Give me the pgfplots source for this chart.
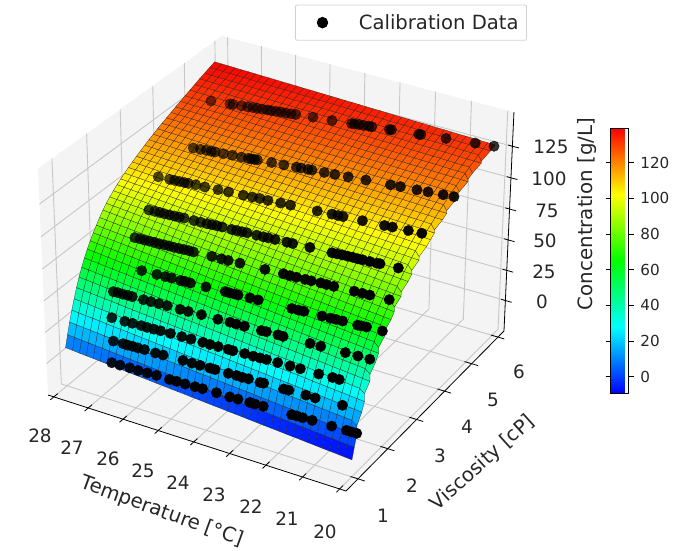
\documentclass[border=0pt]{standalone}
\usepackage{pgfplots}
\usepackage{pgfplotstable}
\pgfplotsset{compat=1.18}
\usepackage{fontspec}
\setmainfont{DejaVu Sans}
\definecolor{paneA}{gray}{0.955}
\definecolor{gridc}{gray}{0.78}
\definecolor{txt}{gray}{0.15}
\pgfplotsset{/pgfplots/table/proj/.style={x expr={PX(\thisrow{T},\thisrow{V},\thisrow{z})},y expr={PY(\thisrow{T},\thisrow{V},\thisrow{z})},z expr=0},
 /pgfplots/table/level/.style={x expr={PX(\thisrow{T},\thisrow{V},#1)},y expr={PY(\thisrow{T},\thisrow{V},#1)},z expr=0},
 cal/.style={forget plot,only marks,scatter,mark=*,mark size=5.2pt,point meta=0,
 visualization depends on={min(1,1.25-0.4*uu(\thisrow{T})-0.49*vv(\thisrow{V})) \as \aval},
 scatter/@pre marker code/.code={\pgfscope\pgfsetfillopacity{\aval}\pgfsetstrokeopacity{\aval}\pgfsetfillcolor{black}\pgfsetstrokecolor{black}},
 scatter/@post marker code/.code={\endpgfscope}}}
\begin{document}
\begin{tikzpicture}
\useasboundingbox (0,0) rectangle (681pt,550pt);
\begin{axis}[
 at={(0,0)},anchor=south west,
 scale only axis, width=681pt, height=550pt, xmin=0,xmax=681,ymin=0,ymax=550,
 view={0}{90}, hide axis, clip=false,
 declare function={
  uu(\t)=(\t-19.83)/8.34; vv(\v)=(\v-0.606)/5.627; ww(\z)=(\z+25.6)/177.2;
  WW(\a,\b,\c)=1+0.0449*\a+0.092*\b-0.0449*\c;
  PX(\t,\v,\z)=(346-295.84*uu(\t)+204.37*vv(\v)-12.2*ww(\z))/WW(uu(\t),vv(\v),ww(\z));
  PY(\t,\v,\z)=550-(491-78.26*uu(\t)-129.55*vv(\v)-244*ww(\z))/WW(uu(\t),vv(\v),ww(\z));
 },
 colormap={rb}{rgb255=(0,0,255) rgb255=(0,255,255) rgb255=(0,255,0) rgb255=(255,255,0) rgb255=(255,0,0)},
 point meta min=-9.3, point meta max=139.3,
 colorbar,
 colorbar style={at={(parent axis.south west)},anchor=south west,xshift=602pt,yshift=156.7pt,
  width=18.3pt,height=265pt,ytick={0,20,...,120},ymin=-9.3,ymax=139.3,
  yticklabel style={font=\fontsize{15.2}{15.2}\selectfont,text=txt,xshift=3pt,/pgf/number format/assume math mode=true},
  ytick style={draw=black,line width=0.7pt},tick align=outside,major tick length=5pt,axis line style={line width=0.8pt}},
 legend style={at={(axis cs:295,509.3)},anchor=south west,rounded corners=2pt,draw=gray!35,line width=0.8pt,font=\fontsize{19.6}{19.6}\selectfont,text=txt,inner xsep=6pt,inner ysep=7.5pt},
]
% panes
\addplot3[forget plot,fill=paneA,draw=none] table[row sep=\\,proj]{T V z\\19.83 0.606 -25.6\\28.17 0.606 -25.6\\28.17 6.233 -25.6\\19.83 6.233 -25.6\\};
\addplot3[forget plot,fill=paneA,draw=none] table[row sep=\\,proj]{T V z\\19.83 6.233 -25.6\\28.17 6.233 -25.6\\28.17 6.233 151.6\\19.83 6.233 151.6\\};
\addplot3[forget plot,fill=paneA,draw=none] table[row sep=\\,proj]{T V z\\28.17 0.606 -25.6\\28.17 6.233 -25.6\\28.17 6.233 151.6\\28.17 0.606 151.6\\};
% grid
\pgfplotsinvokeforeach{20,...,28}{
\addplot3[forget plot,gridc,line width=0.9pt] table[row sep=\\,proj]{T V z\\#1 0.606 -25.6\\#1 6.233 -25.6\\#1 6.233 151.6\\};
\addplot3[forget plot,black,line width=0.8pt] table[row sep=\\,proj]{T V z\\#1 0.50 -25.6\\#1 0.72 -25.6\\};
}
\pgfplotsinvokeforeach{1,...,6}{
\addplot3[forget plot,gridc,line width=0.9pt] table[row sep=\\,proj]{T V z\\19.83 #1 -25.6\\28.17 #1 -25.6\\28.17 #1 151.6\\};
\addplot3[forget plot,black,line width=0.8pt] table[row sep=\\,proj]{T V z\\19.65 #1 -25.6\\20.03 #1 -25.6\\};
}
\pgfplotsinvokeforeach{0,25,...,125}{
\addplot3[forget plot,gridc,line width=0.9pt] table[row sep=\\,proj]{T V z\\28.17 0.606 #1\\28.17 6.233 #1\\19.83 6.233 #1\\};
\addplot3[forget plot,black,line width=0.8pt] table[row sep=\\,proj]{T V z\\19.95 6.233 #1\\19.65 6.233 #1\\};
}
% axis lines
\addplot3[forget plot,black,line width=0.8pt] table[row sep=\\,proj]{T V z\\28.17 0.606 -25.6\\19.83 0.606 -25.6\\19.83 6.233 -25.6\\19.83 6.233 151.6\\};
% surface: 41 temperatures (20..28) per viscosity row, 41 rows
\addplot3[forget plot,surf,shader=faceted,faceted color=black!85,line width=0.25pt,mesh/cols=41,mesh/ordering=x varies,mesh/check=false,point meta=\thisrow{z}]
 table[x expr={PX(20+8*mod(\coordindex,41)/40,(1+0.0352*floor(\coordindex/41))^2,\thisrow{z})},y expr={PY(20+8*mod(\coordindex,41)/40,(1+0.0352*floor(\coordindex/41))^2,\thisrow{z})},z expr=0]{
z
-12.0
-11.6
-11.1
-10.7
-10.3
-9.8
-9.4
-8.9
-8.5
-8.1
-7.6
-7.2
-6.8
-6.3
-5.9
-5.4
-5.0
-4.6
-4.1
-3.7
-3.3
-2.8
-2.4
-1.9
-1.5
-1.1
-0.6
-0.2
0.3
0.7
1.1
1.6
2.0
2.4
2.9
3.3
3.8
4.2
4.6
5.1
5.5
-3.6
-3.2
-2.7
-2.3
-1.8
-1.4
-0.9
-0.5
0.0
0.5
0.9
1.4
1.8
2.3
2.7
3.2
3.6
4.1
4.5
5.0
5.4
5.9
6.3
6.8
7.2
7.7
8.1
8.6
9.0
9.5
9.9
10.4
10.8
11.3
11.7
12.2
12.6
13.1
13.5
14.0
14.4
4.3
4.8
5.2
5.7
6.2
6.6
7.1
7.6
8.0
8.5
9.0
9.4
9.9
10.3
10.8
11.3
11.7
12.2
12.7
13.1
13.6
14.1
14.5
15.0
15.5
15.9
16.4
16.9
17.3
17.8
18.3
18.7
19.2
19.6
20.1
20.6
21.0
21.5
22.0
22.4
22.9
11.7
12.2
12.7
13.1
13.6
14.1
14.6
15.1
15.5
16.0
16.5
17.0
17.5
17.9
18.4
18.9
19.4
19.9
20.3
20.8
21.3
21.8
22.3
22.7
23.2
23.7
24.2
24.7
25.1
25.6
26.1
26.6
27.1
27.5
28.0
28.5
29.0
29.5
29.9
30.4
30.9
18.6
19.1
19.6
20.1
20.6
21.1
21.6
22.0
22.5
23.0
23.5
24.0
24.5
25.0
25.5
26.0
26.5
27.0
27.5
28.0
28.5
28.9
29.4
29.9
30.4
30.9
31.4
31.9
32.4
32.9
33.4
33.9
34.4
34.9
35.4
35.9
36.3
36.8
37.3
37.8
38.3
25.1
25.6
26.1
26.6
27.1
27.6
28.1
28.6
29.2
29.7
30.2
30.7
31.2
31.7
32.2
32.7
33.2
33.7
34.2
34.7
35.3
35.8
36.3
36.8
37.3
37.8
38.3
38.8
39.3
39.8
40.3
40.8
41.3
41.8
42.4
42.9
43.4
43.9
44.4
44.9
45.4
31.2
31.7
32.2
32.8
33.3
33.8
34.3
34.8
35.4
35.9
36.4
36.9
37.4
37.9
38.5
39.0
39.5
40.0
40.6
41.1
41.6
42.1
42.6
43.2
43.7
44.2
44.7
45.2
45.8
46.3
46.8
47.3
47.8
48.4
48.9
49.4
49.9
50.4
51.0
51.5
52.0
37.0
37.5
38.1
38.6
39.1
39.6
40.2
40.7
41.2
41.7
42.3
42.8
43.3
43.8
44.4
44.9
45.4
45.9
46.5
47.0
47.5
48.0
48.6
49.1
49.6
50.1
50.7
51.2
51.7
52.2
52.8
53.3
53.8
54.3
54.9
55.4
55.9
56.4
57.0
57.5
58.0
42.5
43.0
43.6
44.1
44.6
45.1
45.7
46.2
46.7
47.2
47.8
48.3
48.8
49.3
49.9
50.4
50.9
51.4
52.0
52.5
53.0
53.5
54.1
54.6
55.1
55.6
56.2
56.7
57.2
57.7
58.3
58.8
59.3
59.8
60.4
60.9
61.4
61.9
62.5
63.0
63.5
47.7
48.2
48.7
49.3
49.8
50.3
50.8
51.4
51.9
52.4
52.9
53.4
54.0
54.5
55.0
55.5
56.1
56.6
57.1
57.6
58.2
58.7
59.2
59.7
60.2
60.8
61.3
61.8
62.3
62.9
63.4
63.9
64.4
64.9
65.5
66.0
66.5
67.0
67.6
68.1
68.6
52.6
53.1
53.6
54.2
54.7
55.2
55.7
56.2
56.7
57.3
57.8
58.3
58.8
59.3
59.8
60.4
60.9
61.4
61.9
62.4
62.9
63.5
64.0
64.5
65.0
65.5
66.0
66.6
67.1
67.6
68.1
68.6
69.1
69.6
70.2
70.7
71.2
71.7
72.2
72.7
73.3
57.2
57.7
58.2
58.7
59.2
59.8
60.3
60.8
61.3
61.8
62.3
62.8
63.3
63.8
64.3
64.9
65.4
65.9
66.4
66.9
67.4
67.9
68.4
68.9
69.4
70.0
70.5
71.0
71.5
72.0
72.5
73.0
73.5
74.0
74.5
75.1
75.6
76.1
76.6
77.1
77.6
61.6
62.1
62.6
63.1
63.6
64.1
64.6
65.1
65.6
66.1
66.6
67.1
67.6
68.1
68.6
69.1
69.6
70.1
70.6
71.1
71.6
72.1
72.6
73.1
73.6
74.1
74.6
75.1
75.6
76.1
76.6
77.1
77.6
78.1
78.6
79.1
79.6
80.1
80.6
81.1
81.6
65.9
66.4
66.9
67.4
67.9
68.4
68.9
69.3
69.8
70.3
70.8
71.3
71.8
72.3
72.8
73.3
73.8
74.3
74.8
75.2
75.8
76.2
76.7
77.2
77.7
78.2
78.7
79.2
79.7
80.2
80.8
81.2
81.7
82.2
82.6
83.1
83.6
84.1
84.6
85.1
85.6
69.9
70.4
70.9
71.4
71.9
72.3
72.8
73.3
73.8
74.3
74.8
75.3
75.8
76.2
76.7
77.2
77.7
78.2
78.7
79.2
79.7
80.1
80.6
81.1
81.6
82.1
82.6
83.1
83.6
84.0
84.5
85.0
85.5
86.0
86.5
87.0
87.5
87.9
88.4
88.9
89.4
73.7
74.2
74.6
75.1
75.6
76.1
76.5
77.0
77.5
78.0
78.4
78.9
79.4
79.8
80.3
80.8
81.3
81.7
82.2
82.7
83.2
83.6
84.1
84.6
85.0
85.5
86.0
86.5
86.9
87.4
87.9
88.4
88.8
89.3
89.8
90.2
90.7
91.2
91.7
92.1
92.6
77.3
77.8
78.2
78.7
79.1
79.6
80.0
80.5
80.9
81.4
81.9
82.3
82.8
83.2
83.7
84.1
84.6
85.0
85.5
85.9
86.4
86.9
87.3
87.8
88.2
88.7
89.1
89.6
90.0
90.5
91.0
91.4
91.9
92.3
92.8
93.2
93.7
94.1
94.6
95.0
95.5
80.8
81.2
81.7
82.1
82.5
83.0
83.4
83.8
84.3
84.7
85.1
85.6
86.0
86.4
86.9
87.3
87.7
88.2
88.6
89.0
89.5
89.9
90.3
90.8
91.2
91.6
92.0
92.5
92.9
93.3
93.8
94.2
94.6
95.1
95.5
95.9
96.4
96.8
97.2
97.7
98.1
84.2
84.6
85.0
85.4
85.9
86.3
86.7
87.1
87.5
87.9
88.3
88.7
89.1
89.5
89.9
90.4
90.8
91.2
91.6
92.0
92.4
92.8
93.2
93.6
94.0
94.5
94.9
95.3
95.7
96.1
96.5
96.9
97.3
97.7
98.1
98.6
99.0
99.4
99.8
100.2
100.6
87.4
87.8
88.2
88.6
89.0
89.3
89.7
90.1
90.5
90.9
91.3
91.7
92.1
92.4
92.8
93.2
93.6
94.0
94.4
94.8
95.2
95.5
95.9
96.3
96.7
97.1
97.5
97.9
98.3
98.6
99.0
99.4
99.8
100.2
100.6
101.0
101.4
101.7
102.1
102.5
102.9
90.5
90.9
91.2
91.6
92.0
92.3
92.7
93.1
93.4
93.8
94.2
94.5
94.9
95.2
95.6
96.0
96.3
96.7
97.1
97.4
97.8
98.2
98.5
98.9
99.3
99.6
100.0
100.4
100.7
101.1
101.5
101.8
102.2
102.5
102.9
103.3
103.6
104.0
104.4
104.7
105.1
93.4
93.7
94.1
94.4
94.8
95.1
95.5
95.8
96.2
96.5
96.9
97.2
97.5
97.9
98.2
98.6
98.9
99.3
99.6
100.0
100.3
100.6
101.0
101.3
101.7
102.0
102.4
102.7
103.1
103.4
103.8
104.1
104.4
104.8
105.1
105.5
105.8
106.2
106.5
106.9
107.2
96.2
96.5
96.9
97.2
97.5
97.8
98.2
98.5
98.8
99.1
99.5
99.8
100.1
100.4
100.8
101.1
101.4
101.7
102.1
102.4
102.7
103.0
103.4
103.7
104.0
104.3
104.7
105.0
105.3
105.6
106.0
106.3
106.6
106.9
107.3
107.6
107.9
108.2
108.6
108.9
109.2
99.0
99.3
99.6
99.9
100.2
100.5
100.8
101.1
101.4
101.7
102.1
102.4
102.7
103.0
103.3
103.6
103.9
104.2
104.5
104.8
105.1
105.4
105.7
106.0
106.3
106.6
106.9
107.2
107.5
107.8
108.2
108.5
108.8
109.1
109.4
109.7
110.0
110.3
110.6
110.9
111.2
101.6
101.9
102.2
102.5
102.8
103.0
103.3
103.6
103.9
104.2
104.5
104.8
105.0
105.3
105.6
105.9
106.2
106.5
106.8
107.0
107.4
107.6
107.9
108.2
108.5
108.8
109.1
109.4
109.6
109.9
110.2
110.5
110.8
111.1
111.4
111.7
111.9
112.2
112.5
112.8
113.1
104.1
104.4
104.6
104.9
105.2
105.5
105.7
106.0
106.3
106.6
106.8
107.1
107.4
107.6
107.9
108.2
108.5
108.7
109.0
109.3
109.5
109.8
110.1
110.4
110.6
110.9
111.2
111.5
111.7
112.0
112.3
112.5
112.8
113.1
113.4
113.6
113.9
114.2
114.4
114.7
115.0
106.5
106.8
107.0
107.3
107.5
107.8
108.0
108.3
108.6
108.8
109.1
109.3
109.6
109.8
110.1
110.4
110.6
110.9
111.1
111.4
111.7
111.9
112.2
112.4
112.7
112.9
113.2
113.5
113.7
114.0
114.2
114.5
114.7
115.0
115.3
115.5
115.8
116.0
116.3
116.5
116.8
108.9
109.1
109.4
109.6
109.9
110.1
110.4
110.6
110.8
111.1
111.3
111.6
111.8
112.1
112.3
112.5
112.8
113.0
113.3
113.5
113.8
114.0
114.2
114.5
114.7
115.0
115.2
115.5
115.7
115.9
116.2
116.4
116.7
116.9
117.1
117.4
117.6
117.9
118.1
118.3
118.6
111.1
111.3
111.6
111.8
112.0
112.3
112.5
112.7
112.9
113.2
113.4
113.6
113.9
114.1
114.3
114.6
114.8
115.0
115.2
115.5
115.7
115.9
116.2
116.4
116.6
116.8
117.1
117.3
117.5
117.8
118.0
118.2
118.5
118.7
118.9
119.1
119.4
119.6
119.8
120.1
120.3
113.3
113.5
113.7
114.0
114.2
114.4
114.6
114.8
115.0
115.3
115.5
115.7
115.9
116.1
116.3
116.6
116.8
117.0
117.2
117.4
117.7
117.9
118.1
118.3
118.5
118.7
119.0
119.2
119.4
119.6
119.8
120.0
120.3
120.5
120.7
120.9
121.1
121.3
121.6
121.8
122.0
115.4
115.6
115.8
116.0
116.2
116.4
116.6
116.8
117.0
117.2
117.5
117.7
117.9
118.1
118.3
118.5
118.7
118.9
119.1
119.3
119.5
119.7
119.9
120.1
120.3
120.5
120.7
120.9
121.1
121.3
121.5
121.8
122.0
122.2
122.4
122.6
122.8
123.0
123.2
123.4
123.6
117.4
117.6
117.8
118.0
118.2
118.4
118.6
118.8
119.0
119.2
119.4
119.5
119.7
119.9
120.1
120.3
120.5
120.7
120.9
121.1
121.3
121.5
121.7
121.9
122.1
122.3
122.5
122.7
122.9
123.1
123.3
123.4
123.6
123.8
124.0
124.2
124.4
124.6
124.8
125.0
125.2
119.4
119.6
119.8
120.0
120.2
120.3
120.5
120.7
120.9
121.1
121.3
121.5
121.7
121.8
122.0
122.2
122.4
122.6
122.8
123.0
123.2
123.3
123.5
123.7
123.9
124.1
124.3
124.5
124.7
124.8
125.0
125.2
125.4
125.6
125.8
126.0
126.2
126.3
126.5
126.7
126.9
121.3
121.5
121.7
121.8
122.0
122.2
122.4
122.6
122.7
122.9
123.1
123.3
123.5
123.6
123.8
124.0
124.2
124.4
124.5
124.7
124.9
125.1
125.3
125.4
125.6
125.8
126.0
126.2
126.3
126.5
126.7
126.9
127.1
127.2
127.4
127.6
127.8
128.0
128.1
128.3
128.5
123.1
123.3
123.5
123.6
123.8
124.0
124.2
124.3
124.5
124.7
124.9
125.0
125.2
125.4
125.6
125.7
125.9
126.1
126.3
126.4
126.6
126.8
127.0
127.1
127.3
127.5
127.7
127.8
128.0
128.2
128.4
128.5
128.7
128.9
129.1
129.2
129.4
129.6
129.8
129.9
130.1
124.9
125.1
125.2
125.4
125.6
125.8
125.9
126.1
126.3
126.5
126.6
126.8
127.0
127.1
127.3
127.5
127.7
127.8
128.0
128.2
128.4
128.5
128.7
128.9
129.0
129.2
129.4
129.6
129.7
129.9
130.1
130.2
130.4
130.6
130.8
130.9
131.1
131.3
131.5
131.6
131.8
126.6
126.8
126.9
127.1
127.3
127.5
127.6
127.8
128.0
128.1
128.3
128.5
128.6
128.8
129.0
129.2
129.3
129.5
129.7
129.8
130.0
130.2
130.3
130.5
130.7
130.9
131.0
131.2
131.4
131.5
131.7
131.9
132.0
132.2
132.4
132.6
132.7
132.9
133.1
133.2
133.4
128.3
128.5
128.6
128.8
129.0
129.2
129.3
129.5
129.7
129.8
130.0
130.2
130.3
130.5
130.7
130.9
131.0
131.2
131.4
131.5
131.7
131.9
132.0
132.2
132.4
132.6
132.7
132.9
133.1
133.2
133.4
133.6
133.7
133.9
134.1
134.3
134.4
134.6
134.8
134.9
135.1
129.9
130.1
130.2
130.4
130.6
130.7
130.9
131.1
131.2
131.4
131.6
131.7
131.9
132.1
132.2
132.4
132.6
132.7
132.9
133.1
133.3
133.4
133.6
133.8
133.9
134.1
134.3
134.4
134.6
134.8
134.9
135.1
135.3
135.4
135.6
135.8
135.9
136.1
136.3
136.4
136.6
131.5
131.7
131.8
132.0
132.2
132.3
132.5
132.7
132.8
133.0
133.2
133.3
133.5
133.7
133.8
134.0
134.2
134.3
134.5
134.7
134.9
135.0
135.2
135.4
135.5
135.7
135.9
136.0
136.2
136.4
136.5
136.7
136.9
137.0
137.2
137.4
137.5
137.7
137.9
138.0
138.2
133.0
133.2
133.3
133.5
133.7
133.8
134.0
134.2
134.3
134.5
134.7
134.8
135.0
135.2
135.3
135.5
135.7
135.8
136.0
136.2
136.4
136.5
136.7
136.9
137.0
137.2
137.4
137.5
137.7
137.9
138.0
138.2
138.4
138.5
138.7
138.9
139.0
139.2
139.4
139.5
139.7
};
% calibration rows
\addplot3[cal] table[row sep=\\,level=132.7]{T V\\27.20 4.78\\26.71 4.85\\26.63 4.86\\26.41 4.89\\26.25 4.91\\26.12 4.93\\26.00 4.94\\25.87 4.96\\25.74 4.98\\25.64 4.99\\25.51 5.01\\25.39 5.03\\25.26 5.04\\25.13 5.06\\25.01 5.08\\24.57 5.14\\24.08 5.20\\23.58 5.27\\23.51 5.28\\23.40 5.30\\23.28 5.31\\23.15 5.33\\23.07 5.34\\22.62 5.40\\22.57 5.41\\21.88 5.50\\21.83 5.51\\21.20 5.60\\20.47 5.70\\20 5.76\\};
\addplot3[cal] table[row sep=\\,level=118.4]{T V\\26.77 3.73\\26.58 3.75\\26.43 3.77\\26.30 3.78\\26.20 3.79\\25.98 3.81\\25.75 3.84\\25.51 3.86\\25.33 3.88\\25.25 3.89\\25.17 3.90\\25.10 3.91\\24.73 3.95\\24.41 3.98\\24.09 4.02\\23.97 4.03\\23.79 4.05\\23.69 4.06\\23.37 4.09\\23.10 4.12\\22.76 4.16\\22.31 4.21\\21.68 4.27\\21.43 4.30\\21.01 4.34\\20.73 4.37\\20.35 4.41\\20.08 4.44\\};
\addplot3[cal] table[row sep=\\,level=104.5]{T V\\27.21 3.10\\26.90 3.12\\26.77 3.13\\26.64 3.14\\26.51 3.15\\26.41 3.16\\26.21 3.18\\25.96 3.19\\25.61 3.22\\25.33 3.24\\24.94 3.27\\24.70 3.29\\24.51 3.31\\24.29 3.32\\23.96 3.35\\23.70 3.37\\23.00 3.42\\22.62 3.45\\22.46 3.46\\22.33 3.47\\21.83 3.51\\21.26 3.55\\21.06 3.57\\20.65 3.60\\20.31 3.63\\};
\addplot3[cal] table[row sep=\\,level=91.6]{T V\\26.96 2.53\\26.80 2.54\\26.67 2.55\\26.54 2.55\\26.40 2.56\\26.27 2.57\\26.14 2.58\\26.01 2.59\\25.74 2.60\\25.56 2.61\\25.39 2.62\\25.26 2.63\\25.13 2.64\\24.99 2.65\\24.73 2.66\\24.60 2.67\\24.46 2.68\\24.33 2.69\\24.07 2.70\\23.89 2.71\\23.76 2.72\\23.58 2.73\\23.27 2.75\\23.12 2.76\\22.67 2.79\\22.09 2.82\\21.96 2.83\\21.83 2.84\\21.69 2.85\\21.56 2.86\\21.43 2.86\\21.30 2.87\\21.11 2.88\\20.93 2.89\\20.85 2.90\\20.38 2.93\\};
\addplot3[cal] table[row sep=\\,level=78.2]{T V\\26.98 2.11\\26.84 2.12\\26.71 2.12\\26.58 2.13\\26.45 2.14\\26.31 2.14\\26.18 2.15\\26.05 2.16\\25.92 2.16\\25.78 2.17\\25.65 2.18\\25.52 2.19\\25.39 2.19\\24.90 2.22\\24.64 2.23\\24.46 2.24\\24.15 2.26\\23.48 2.29\\23.00 2.32\\22.82 2.32\\22.65 2.33\\22.42 2.34\\22.26 2.35\\22.02 2.37\\21.86 2.37\\21.67 2.38\\21.14 2.41\\20.93 2.42\\20.74 2.43\\20.24 2.46\\};
\addplot3[cal] table[row sep=\\,level=63.6]{T V\\26.47 1.76\\26.06 1.78\\25.83 1.79\\25.66 1.80\\25.41 1.81\\25.30 1.82\\25.15 1.82\\24.73 1.84\\24.22 1.87\\24.10 1.87\\23.97 1.88\\23.87 1.88\\23.56 1.90\\23.34 1.91\\22.45 1.95\\22.28 1.96\\22.14 1.97\\21.66 1.99\\21.44 2.00\\21.30 2.01\\21.13 2.02\\20.73 2.03\\20.64 2.04\\20.51 2.05\\20.10 2.07\\};
\addplot3[cal] table[row sep=\\,level=48.5]{T V\\27.02 1.47\\26.90 1.48\\26.76 1.48\\26.63 1.49\\26.50 1.49\\26.19 1.50\\25.99 1.51\\25.77 1.52\\25.55 1.53\\25.19 1.54\\24.97 1.55\\24.62 1.57\\24.17 1.58\\23.85 1.60\\23.68 1.60\\23.46 1.61\\23.01 1.63\\22.88 1.64\\22.57 1.65\\22.43 1.65\\21.72 1.68\\21.44 1.69\\20.80 1.72\\20.47 1.73\\20.16 1.74\\};
\addplot3[cal] table[row sep=\\,level=33.5]{T V\\26.88 1.26\\26.52 1.27\\26.31 1.28\\26.07 1.29\\25.90 1.29\\25.72 1.30\\25.54 1.31\\25.27 1.32\\24.96 1.33\\24.71 1.34\\24.39 1.35\\24.19 1.35\\23.97 1.36\\23.70 1.37\\23.57 1.37\\23.26 1.39\\23.03 1.39\\22.85 1.40\\22.68 1.41\\22.38 1.42\\22.05 1.43\\21.78 1.44\\21.29 1.45\\20.93 1.47\\20.75 1.47\\};
\addplot3[cal] table[row sep=\\,level=19.3]{T V\\26.72 1.12\\26.45 1.13\\26.32 1.13\\26.19 1.14\\26.04 1.14\\25.86 1.15\\25.55 1.15\\25.34 1.16\\24.80 1.18\\24.55 1.18\\24.33 1.19\\24.06 1.20\\23.92 1.20\\23.56 1.21\\23.34 1.22\\23.18 1.22\\23.02 1.23\\22.70 1.23\\22.61 1.24\\22.07 1.25\\21.94 1.26\\21.48 1.27\\21.23 1.27\\20.52 1.30\\};
\addplot3[cal] table[row sep=\\,level=5.2]{T V\\26.66 0.996\\26.43 1.00\\26.16 1.01\\25.92 1.01\\25.67 1.02\\25.42 1.03\\25.05 1.03\\24.86 1.04\\24.62 1.04\\24.35 1.05\\24.15 1.06\\23.77 1.07\\23.40 1.07\\23.18 1.08\\22.86 1.09\\22.72 1.09\\22.50 1.10\\21.73 1.11\\21.60 1.12\\21.44 1.12\\21.19 1.13\\20.67 1.14\\20.28 1.15\\20.14 1.15\\20.01 1.155\\};
\addlegendimage{legend image code/.code={\fill[black] (0,0) circle (5.3pt); \path (-20.7pt,0) (34pt,0);}}
\addlegendentry{Calibration Data}
% labels
\foreach \l/\x/\y in {28/40/436,27/72/448,26/108/459,25/143/471,24/178/483,23/214/495,22/251/507,21/287/519,20/325/532,1/383/516,2/412/486,3/440/456,4/467/427,5/493/400,6/519/372,0/542/302,25/544/272,50/545/241,75/547/211,100/549/179,125/551/147}{
 \edef\tmp{\noexpand\node[font=\noexpand\fontsize{18.4}{18.4}\noexpand\selectfont,text=txt] at (axis cs:\x,{550-\y}) {\l};}\tmp
}
\node[font=\fontsize{19.8}{19.8}\selectfont,text=txt,rotate=-20] at (axis cs:162,38) {Temperature [°C]};
\node[font=\fontsize{19.8}{19.8}\selectfont,text=txt,rotate=42] at (axis cs:483,87) {Viscosity [cP]};
\node[font=\fontsize{19.8}{19.8}\selectfont,text=txt,rotate=90] at (axis cs:587,336) {Concentration [g/L]};
\end{axis}
\end{tikzpicture}
\end{document}
